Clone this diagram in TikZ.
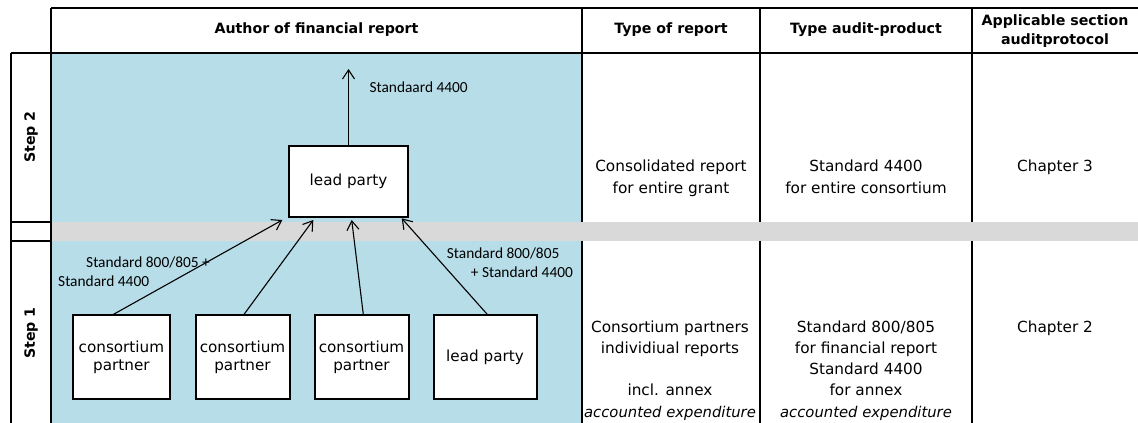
\documentclass[tikz,border=0pt]{standalone}
\usepackage{fontspec}
\setmainfont{DejaVu Sans}
\newfontfamily\calfont{Carlito}
\usetikzlibrary{arrows.meta,calc}
\definecolor{cellblue}{HTML}{B7DDE8}
\definecolor{bandgray}{HTML}{D9D9D9}
\newcommand{\accexp}{{\itshape\fontsize{14.8}{21.3}\selectfont accounted expenditure}}
\begin{document}
\begin{tikzpicture}[x=1pt,y=-1pt,
  grid/.style={line width=2pt},
  box/.style={draw, line width=2pt, fill=white, inner sep=0pt, align=center,
    font=\fontsize{15.2}{17.7}\selectfont},
  body/.style={align=center, inner sep=0pt, anchor=base,
    font=\fontsize{15.3}{21.3}\selectfont},
  head/.style={align=center, inner sep=0pt,
    font=\bfseries\fontsize{14.2}{18.3}\selectfont},
  steplabel/.style={rotate=90, inner sep=0pt,
    font=\bfseries\fontsize{14.2}{17}\selectfont},
  flow/.style={line width=1.1pt, -{Straight Barb[length=9pt,width=12pt]}},
  lbl/.style={font=\calfont\fontsize{15.4}{19}\selectfont, inner sep=0pt, anchor=west, align=left}
]
\useasboundingbox (0,0) rectangle (1138,423);
% backgrounds
\fill[cellblue] (51,52.5) rectangle (582,423);
\fill[bandgray] (51,221.7) rectangle (1138,240.7);
% table lines
\draw[grid] (51,8) -- (1138,8);
\draw[grid] (11,52.5) -- (1138,52.5);
\draw[grid] (11,52.5) -- (11,423);
\draw[grid] (51,8) -- (51,423);
\draw[grid] (11,221.7) -- (51,221.7);
\draw[grid] (11,240.7) -- (51,240.7);
\foreach \xx in {582,760,972}{
  \draw[grid] (\xx,8) -- (\xx,221.7);
  \draw[grid] (\xx,240.7) -- (\xx,423);
}
% headers
\node[head] (hauthor) at (316.5,30) {Author of financial report};
\node[head] (htype) at (671,30) {Type of report};
\node[head] (haudit) at (866,30) {Type audit-product};
\node[head] (hsect) at (1055,31) {Applicable section\\auditprotocol};
% step labels
\node[steplabel] (step2) at (31,137) {Step 2};
\node[steplabel] (step1) at (31,333) {Step 1};
% boxes
\node[box, minimum width=119pt, minimum height=71pt] (lead2) at (348.5,181.5) {lead party};
\node[box, minimum width=97pt, minimum height=84pt] (p1) at (121.4,357.4) {consortium\\partner};
\node[box, minimum width=94pt, minimum height=84pt] (p2) at (242.5,357.4) {consortium\\partner};
\node[box, minimum width=94pt, minimum height=84pt] (p3) at (361.5,357.4) {consortium\\partner};
\node[box, minimum width=103pt, minimum height=84pt] (lead1) at (485,357.4) {lead party};
% arrows
\coordinate (out) at (348.5,69);
\coordinate (t1) at (282.3,220);
\coordinate (t2) at (313.3,220);
\coordinate (t3) at (351.7,220);
\coordinate (t4) at (401.7,218.3);
\draw[flow] (lead2.north) -- (out);
\draw[flow] ($(p1.north)+(-8,0)$) -- (t1);
\draw[flow] ($(p2.north)+(1.5,0)$) -- (t2);
\draw[flow] ($(p3.north)+(1.8,0)$) -- (t3);
\draw[flow] ($(lead1.north)+(2.3,0)$) -- (t4);
% arrow labels
\node[lbl] (l0) at (369.3,87.3) {Standaard 4400};
\node[lbl] (l1) at (58,271.5) {\hspace*{28pt}Standard 800/805 +\\Standard 4400};
\node[lbl] (l4) at (446.7,263) {Standard 800/805\\\hspace*{24pt}+ Standard 4400};
% right columns (anchor = baseline of last line)
\node[body] (r2a) at (671,193.2) {Consolidated report\\for entire grant};
\node[body] (r2b) at (866,193.2) {Standard 4400\\for entire consortium};
\node[body] (r2c) at (1055,171.2) {Chapter 3};
\node[body] (r1a) at (670,417.2) {Consortium partners\\individiual reports\\[21.3pt]incl. annex\\\accexp};
\node[body] (r1b) at (866,417.2) {Standard 800/805\\for financial report\\Standard 4400\\for annex\\\accexp};
\node[body] (r1c) at (1055,332.5) {Chapter 2};
\end{tikzpicture}
\end{document}
